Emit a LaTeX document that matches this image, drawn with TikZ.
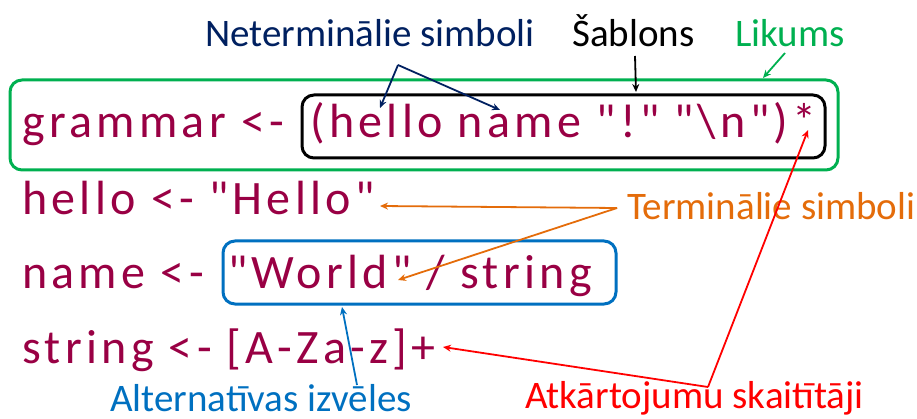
\documentclass[tikz,border=0pt]{standalone}
\usepackage{fontspec}
\setmainfont{Carlito}
\newfontfamily\codefont[LetterSpace=9]{Carlito}
\usetikzlibrary{arrows.meta}
\definecolor{codered}{RGB}{153,0,68}
\definecolor{navy}{RGB}{0,32,96}
\definecolor{termorange}{RGB}{228,108,10}
\definecolor{altblue}{RGB}{0,112,192}
\definecolor{rulegreen}{RGB}{0,176,80}
\definecolor{countred}{RGB}{255,0,0}
\begin{document}
\begin{tikzpicture}[x=1pt,y=-1pt,
  code/.style={anchor=base west,inner sep=0pt,text=codered,font=\codefont\fontsize{48}{54}\selectfont},
  lbl/.style={anchor=base west,inner sep=0pt,font=\fontsize{39}{44}\selectfont},
  frame/.style={draw,line width=3pt,rounded corners=12pt,inner sep=0pt},
  pointer/.style={line width=1.8pt,-{Stealth[length=8pt,width=7pt]}}]
\useasboundingbox (0,0) rectangle (917,419);
% grammar rules
\node[code] (g1) at (22,138) {grammar <-};
\node[code] (g2) at (310,138) {(hello name "!" "\textbackslash n")*};
\node[code] (h1) at (22,215) {hello <- "Hello"};
\node[code] (n1) at (22,288) {name <-};
\node[code] (n2) at (228,288) {"World" / string};
\node[code] (s1) at (22,363) {string <- [A-Za-z]+};
% frames
\node[frame,draw=rulegreen,minimum width=828pt,minimum height=90pt] (rule) at (424,125) {};
\node[frame,draw=black,minimum width=523pt,minimum height=63pt] (pattern) at (563.5,126.5) {};
\node[frame,draw=altblue,minimum width=393pt,minimum height=63pt] (alts) at (419.5,272.5) {};
% labels
\node[lbl,text=navy] (lnt) at (205,47) {Neterminālie simboli};
\node[lbl,text=black] (lsab) at (572,47) {Šablons};
\node[lbl,text=rulegreen] (llik) at (735,47) {Likums};
\node[lbl,text=termorange] (lterm) at (627,220) {Terminālie simboli};
\node[lbl,text=altblue] (lalt) at (110,411) {Alternatīvas izvēles};
\node[lbl,text=countred] (lcnt) at (525,408) {Atkārtojumu skaitītāji};
% pointer ends
\coordinate (ntapex) at (398,65);
\coordinate (nthello) at (380,108);
\coordinate (ntname) at (500,110);
\coordinate (sabtop) at (635,56);
\coordinate (sabend) at (636,92);
\coordinate (liktop) at (785,53);
\coordinate (likend) at (763,78);
\coordinate (tapex) at (617,208);
\coordinate (thello) at (380,206);
\coordinate (tworld) at (398,280);
\coordinate (alttop) at (357,385);
\coordinate (altend) at (342,307);
\coordinate (capex) at (708,387);
\coordinate (cplus) at (443,347);
\coordinate (cstar) at (808,130);
% pointers
\draw[pointer,navy] (ntapex) -- (nthello);
\draw[pointer,navy] (ntapex) -- (ntname);
\draw[pointer,black] (sabtop) -- (sabend);
\draw[pointer,rulegreen] (liktop) -- (likend);
\draw[pointer,termorange] (tapex) -- (thello);
\draw[pointer,termorange] (tapex) -- (tworld);
\draw[pointer,altblue] (alttop) -- (altend);
\draw[pointer,countred] (capex) -- (cplus);
\draw[pointer,countred] (capex) -- (cstar);
\end{tikzpicture}
\end{document}
